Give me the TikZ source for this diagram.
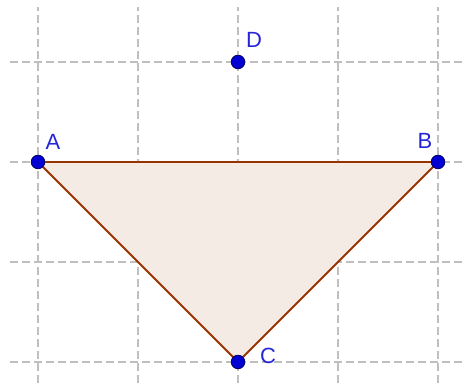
\documentclass[tikz,border=0pt]{standalone}
\usepackage{fontspec}
\setsansfont{Liberation Sans}
\usetikzlibrary{calc}
\definecolor{ggbrown}{RGB}{153,51,0}
\definecolor{ggblue}{RGB}{0,0,210}
\tikzset{
    gridline/.style={draw=black!25, line width=0.6pt, dash pattern=on 3.8pt off 2.2pt},
    tri/.style={draw=ggbrown, fill=ggbrown!10, line width=0.9pt, line join=round},
    pt/.style={circle, fill=ggblue, draw=black!60!blue, line width=0.4pt, inner sep=0pt, minimum size=6.8pt},
    lbl/.style={text=ggblue!85, font=\sffamily\fontsize{11}{13}\selectfont},
    common settings/.style={x=50pt, y=50pt}
}
\begin{document}
\begin{tikzpicture}[common settings]

    % Frame of the picture
    \useasboundingbox (-0.38,-0.21) rectangle (4.28,3.62);

    % 1. Dashed grid
    \foreach \i in {0,...,4} {
        \draw[gridline] (\i,-0.21) -- (\i,3.55);
    }
    \foreach \j in {0,...,3} {
        \draw[gridline] (-0.28,\j) -- (4.28,\j);
    }

    % 2. Points
    \coordinate (A) at (0,2);
    \coordinate (B) at (4,2);
    \coordinate (C) at (2,0);
    \coordinate (D) at (2,3);

    % 3. Triangle ABC
    \path[tri] (A) -- (B) -- (C) -- cycle;

    % 4. Dots and labels
    \node[pt] (ptA) at (A) {};
    \node[pt] (ptB) at (B) {};
    \node[pt] (ptC) at (C) {};
    \node[pt] (ptD) at (D) {};
    \node[lbl] (labA) at ($(A)+(0.15,0.2)$) {A};
    \node[lbl] (labB) at ($(B)+(-0.13,0.21)$) {B};
    \node[lbl] (labC) at ($(C)+(0.3,0.06)$) {C};
    \node[lbl] (labD) at ($(D)+(0.16,0.22)$) {D};

\end{tikzpicture}
\end{document}
